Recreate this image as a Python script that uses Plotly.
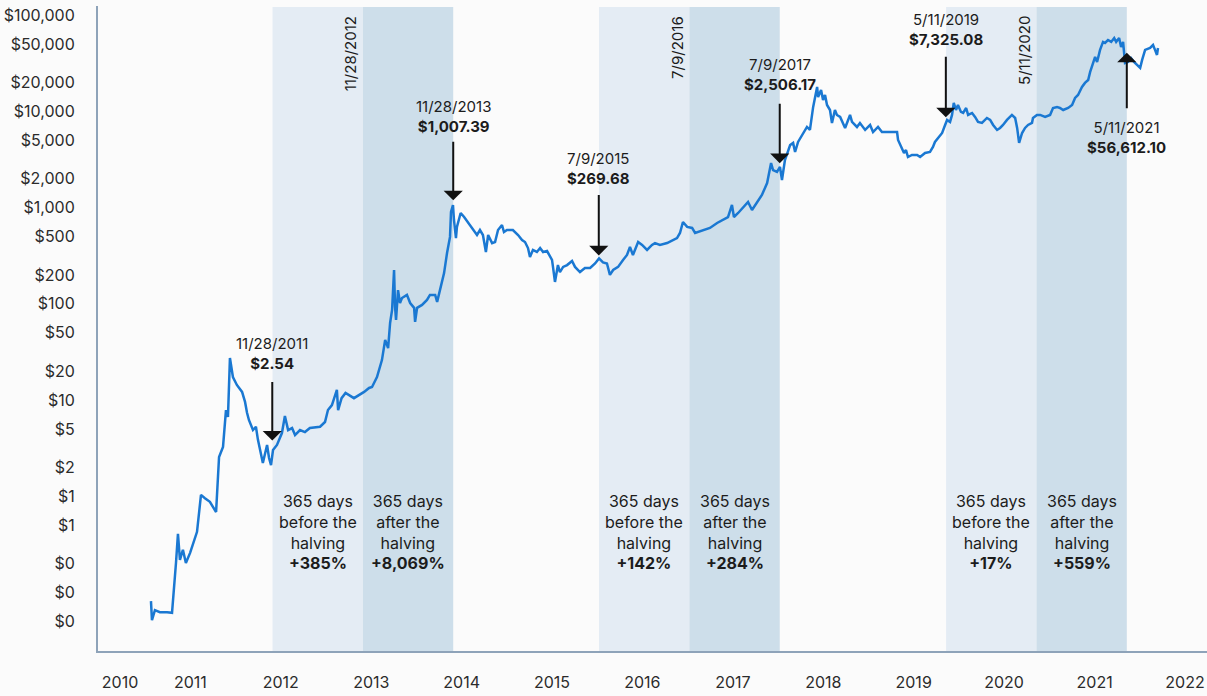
import math
import pandas as pd
import plotly.graph_objects as go

# weekly-ish BTC price
dates = [
    "2010-07-26", "2010-07-30", "2010-08-11", "2010-08-31", "2010-09-29", "2010-10-19", "2010-11-04", "2010-11-12",
    "2010-11-20", "2010-12-02", "2010-12-14", "2010-12-31",
    "2011-01-28", "2011-02-13", "2011-03-01", "2011-03-21", "2011-04-15", "2011-04-27", "2011-05-13", "2011-05-25",
    "2011-06-02", "2011-06-10", "2011-06-22", "2011-07-08", "2011-07-29", "2011-08-10", "2011-08-18", "2011-08-26",
    "2011-09-11", "2011-09-23", "2011-10-01", "2011-10-21", "2011-11-07", "2011-11-15", "2011-11-23", "2011-12-01",
    "2011-12-17",
    "2012-01-06", "2012-01-18", "2012-01-31", "2012-02-16", "2012-02-28", "2012-03-19", "2012-04-08", "2012-04-28",
    "2012-06-08", "2012-06-28", "2012-07-10", "2012-07-26", "2012-08-15", "2012-08-20", "2012-09-03", "2012-09-19",
    "2012-10-23", "2012-12-03", "2012-12-23",
    "2013-01-04", "2013-01-24", "2013-02-13", "2013-02-26", "2013-03-10", "2013-03-18", "2013-03-26", "2013-04-03",
    "2013-04-07", "2013-04-11", "2013-04-19", "2013-04-27", "2013-05-05", "2013-05-25", "2013-06-07", "2013-06-23",
    "2013-06-27", "2013-07-05", "2013-07-25", "2013-08-14", "2013-08-26", "2013-09-16", "2013-09-24", "2013-10-06",
    "2013-10-22", "2013-11-03", "2013-11-15", "2013-11-19", "2013-11-27", "2013-12-01", "2013-12-09", "2013-12-13",
    "2013-12-28",
    "2014-01-11", "2014-01-29", "2014-02-20", "2014-03-04", "2014-03-16", "2014-03-28", "2014-04-09", "2014-04-18",
    "2014-05-04", "2014-05-16", "2014-05-28", "2014-06-13", "2014-06-21", "2014-07-03", "2014-07-27", "2014-08-17",
    "2014-09-02", "2014-09-14", "2014-09-26", "2014-10-04", "2014-10-16", "2014-11-01", "2014-11-14", "2014-11-26",
    "2014-12-12",
    "2015-01-01", "2015-01-05", "2015-01-13", "2015-01-25", "2015-02-02", "2015-02-15", "2015-03-03", "2015-03-23",
    "2015-04-04", "2015-04-24", "2015-05-14", "2015-06-04", "2015-06-24", "2015-07-10", "2015-07-26", "2015-08-11",
    "2015-08-23", "2015-09-05", "2015-09-25", "2015-10-15", "2015-10-31", "2015-11-12", "2015-11-24", "2015-12-15",
    "2015-12-31",
    "2016-01-20", "2016-02-09", "2016-02-21", "2016-03-12", "2016-04-10", "2016-05-04", "2016-05-20", "2016-06-01",
    "2016-06-13", "2016-06-30", "2016-07-20", "2016-08-01", "2016-08-13", "2016-09-10", "2016-09-30", "2016-10-29",
    "2016-11-22", "2016-12-12", "2016-12-28",
    "2017-01-05", "2017-01-22", "2017-02-11", "2017-03-03", "2017-03-19", "2017-04-08", "2017-04-28", "2017-05-19",
    "2017-06-04", "2017-06-12", "2017-06-28", "2017-07-10", "2017-07-18", "2017-07-30", "2017-08-20", "2017-09-01",
    "2017-09-09", "2017-09-21", "2017-10-07", "2017-10-27", "2017-11-08", "2017-11-21", "2017-12-07", "2017-12-11",
    "2017-12-23", "2017-12-31",
    "2018-01-08", "2018-01-16", "2018-01-28", "2018-02-05", "2018-02-17", "2018-02-25", "2018-03-10", "2018-03-22",
    "2018-03-30", "2018-04-19", "2018-04-27", "2018-05-17", "2018-05-29", "2018-06-19", "2018-07-09", "2018-07-21",
    "2018-08-10", "2018-08-26", "2018-09-16", "2018-10-26", "2018-10-30", "2018-11-15", "2018-11-23", "2018-12-01",
    "2018-12-09", "2018-12-25",
    "2019-01-15", "2019-01-27", "2019-02-16", "2019-03-08", "2019-03-20", "2019-03-28", "2019-04-10", "2019-04-26",
    "2019-05-08", "2019-05-16", "2019-05-28", "2019-06-05", "2019-06-12", "2019-06-21", "2019-06-29", "2019-07-11",
    "2019-07-20", "2019-08-01", "2019-08-09", "2019-08-25", "2019-09-06", "2019-09-18", "2019-10-04", "2019-10-24",
    "2019-11-06", "2019-11-18", "2019-12-04", "2019-12-16", "2019-12-28",
    "2020-01-13", "2020-02-02", "2020-02-15", "2020-02-23", "2020-03-02", "2020-03-14", "2020-03-26", "2020-04-07",
    "2020-04-23", "2020-04-27", "2020-05-13", "2020-05-26", "2020-06-15", "2020-07-05", "2020-07-17", "2020-08-02",
    "2020-08-14", "2020-08-27", "2020-09-16", "2020-10-02", "2020-10-14", "2020-10-26", "2020-11-11", "2020-11-23",
    "2020-12-06", "2020-12-14", "2020-12-26",
    "2021-01-03", "2021-01-11", "2021-01-23", "2021-02-04", "2021-02-12", "2021-02-24", "2021-03-09", "2021-03-21",
    "2021-03-29", "2021-04-10", "2021-04-18", "2021-04-26", "2021-05-04", "2021-05-16", "2021-05-28", "2021-06-09",
    "2021-06-22", "2021-07-04", "2021-07-12", "2021-07-24", "2021-08-13", "2021-08-25", "2021-09-02", "2021-09-10",
    "2021-09-14",
]
prices = [
    0.082, 0.052, 0.066, 0.063, 0.063, 0.062, 0.204, 0.41,
    0.22, 0.28, 0.204, 0.26,
    0.43, 1.04, 0.96, 0.88, 0.69, 2.57, 3.27, 7.9,
    6.7, 27.4, 17.4, 14.4, 12.2, 9.6, 7.4, 6.2,
    4.9, 5.3, 3.9, 2.23, 3.43, 2.51, 2.12, 3.04,
    3.43,
    4.56, 6.85, 4.9, 5.14, 4.35, 4.9, 4.67, 5.14,
    5.3, 5.94, 7.9, 8.9, 12.8, 7.9, 10.5, 11.9,
    10.5, 12.2, 13.4,
    13.7, 17.4, 26.1, 42.2, 34.8, 63.4, 86.5, 225,
    93, 68, 139, 102, 115, 124, 102, 91,
    65, 91, 97.5, 110, 124, 124, 105, 139,
    209, 338, 496, 900, 1064, 743, 483, 630,
    879,
    798, 692, 585, 519, 585, 519, 346, 519,
    428, 439, 585, 659, 557, 585, 585, 519,
    461, 439, 380, 307, 363, 346, 380, 346,
    354,
    286, 242, 169, 253, 214, 242, 253, 279,
    242, 214, 236, 236, 263, 297, 270, 263,
    200, 225, 242, 286, 322, 390, 322, 439,
    409,
    363, 409, 428, 409, 428, 461, 483, 545,
    708, 630, 614, 545, 558, 585, 614, 692,
    743, 798, 1064,
    798, 879, 990, 1143, 944, 1117, 1352, 1799,
    2904, 2455, 2344, 2642, 1936, 3119, 4467, 4690,
    3777, 4800, 5675, 6870, 6400, 11090, 17880, 14060,
    16630, 13090,
    14760, 11620, 10310, 7560, 10310, 9160, 8730, 7560,
    6710, 9160, 7750, 6870, 7560, 6400, 7210, 6090,
    6870, 6090, 6090, 6090, 5035, 3963, 3690, 3963,
    3350, 3515,
    3515, 3350, 3690, 3777, 4256, 4800, 5275, 5950,
    7210, 8130, 7750, 9160, 12190, 10310, 11620, 9840,
    9600, 10820, 9160, 9600, 8730, 7750, 7560, 8520,
    8130, 7210, 6400, 6710, 7210,
    8130, 9160, 8520, 6710, 4690, 5950, 6710, 7210,
    7560, 8520, 9160, 9160, 8730, 9160, 10820, 11090,
    10820, 10310, 10820, 11620, 13740, 14760, 17880, 19680,
    21130, 25590, 31740,
    36640, 32490, 43380, 52480, 51260, 54960, 52480, 57660,
    52480, 57660, 46560, 52480, 31740, 32490, 35730, 32490,
    30270, 28190, 34120, 43380, 45420, 48760, 43380, 38460,
    45420,
]

halvings = ["2012-11-28", "2016-07-09", "2020-05-11"]
pct_before = ["+385%", "+142%", "+17%"]
pct_after = ["+8,069%", "+284%", "+559%"]

callout_dates = ["2011-11-28", "2013-11-28", "2015-07-09", "2017-07-09", "2019-05-11", "2021-05-11"]
callout_prices = [2.54, 1007.39, 269.68, 2506.17, 7325.08, 56612.10]

year_ticks = ["2010-03-23", "2011-01-01", "2012-01-01", "2013-01-01", "2014-01-01", "2015-01-01", "2016-01-01",
              "2017-01-01", "2018-01-01", "2019-01-01", "2020-01-01", "2021-01-01", "2022-01-01"]
year_labels = ["2010", "2011", "2012", "2013", "2014", "2015", "2016", "2017", "2018", "2019", "2020", "2021", "2022"]

price_ticks = [0.05, 0.1, 0.2, 0.5, 1, 2, 5, 10, 20, 50, 100, 200, 500, 1000, 2000, 5000, 10000, 20000, 50000, 100000]
price_labels = ["$0", "$0", "$0", "$1", "$1", "$2", "$5", "$10", "$20", "$50", "$100", "$200", "$500", "$1,000",
                "$2,000", "$5,000", "$10,000", "$20,000", "$50,000", "$100,000"]

FONT = "Inter"
TXT = "#1c1c1c"
LIGHT = "#e4ecf4"
DARK = "#cddeea"
AXIS = "#8ea3b9"

fig = go.Figure()
fig.add_trace(go.Scatter(x=dates, y=prices, mode="lines",
                         line=dict(color="#1a78d2", width=2.5), hoverinfo="skip"))

year = pd.Timedelta(days=365)
half = pd.Timedelta(days=182.5)
for i, h in enumerate(halvings):
    d = pd.Timestamp(h)
    fig.add_shape(type="rect", xref="x", yref="paper", x0=d - year, x1=d, y0=0, y1=0.9985,
                  fillcolor=LIGHT, line_width=0, layer="below")
    fig.add_shape(type="rect", xref="x", yref="paper", x0=d, x1=d + year, y0=0, y1=0.9985,
                  fillcolor=DARK, line_width=0, layer="below")
    fig.add_annotation(x=d, xref="x", y=1, yref="paper", text=f"{d.month}/{d.day}/{d.year}",
                       textangle=-90, showarrow=False, xanchor="center", yanchor="top",
                       xshift=-12, yshift=-8, font=dict(family=FONT, size=15, color=TXT))
    fig.add_annotation(x=d - half, xref="x", y=0.184, yref="paper", yanchor="middle", xanchor="center",
                       text=f"365 days<br>before the<br>halving<br><b>{pct_before[i]}</b>",
                       showarrow=False, font=dict(family=FONT, size=16, color=TXT))
    fig.add_annotation(x=d + half, xref="x", y=0.184, yref="paper", yanchor="middle", xanchor="center",
                       text=f"365 days<br>after the<br>halving<br><b>{pct_after[i]}</b>",
                       showarrow=False, font=dict(family=FONT, size=16, color=TXT))

# arrow standoff, tail offset (px), label offset (px)
callout_pos = [(17, -77, 104), (7, -67, 91), (7, -69, 94), (6, -67, 95), (7, -69, 95), (14, 71, -99)]
for d, p, (so, ay, ty) in zip(callout_dates, callout_prices, callout_pos):
    t = pd.Timestamp(d)
    ly = math.log10(p)
    fig.add_annotation(x=t, y=ly, text="", showarrow=True, ax=0, ay=ay, standoff=so,
                       arrowhead=1, arrowsize=1.6, arrowwidth=2, arrowcolor="#111111")
    fig.add_annotation(x=t, y=ly, text=f"{t.month}/{t.day}/{t.year}<br><b>${p:,.2f}</b>",
                       showarrow=False, yshift=ty, yanchor="middle", xanchor="center",
                       font=dict(family=FONT, size=15, color=TXT))

fig.update_layout(
    width=1207, height=696,
    margin=dict(l=98, r=0, t=6, b=45),
    paper_bgcolor="#fbfbfb", plot_bgcolor="#fbfbfb",
    showlegend=False,
    font=dict(family=FONT, size=16, color="#2b2b2b"),
    xaxis=dict(type="date", range=["2009-12-24", "2022-03-31"], showgrid=False, zeroline=False,
               showline=True, linecolor=AXIS, linewidth=2, tickvals=year_ticks, ticktext=year_labels,
               ticks="", ticklabelstandoff=16, tickfont=dict(size=16, color="#2b2b2b")),
    yaxis=dict(type="log", range=[-1.604, 5.093], showgrid=False, zeroline=False,
               showline=True, linecolor=AXIS, linewidth=2, tickvals=price_ticks, ticktext=price_labels,
               ticks="", ticklabelstandoff=18, tickfont=dict(size=16, color="#2b2b2b")),
)

fig.write_html("out.html", config={"displayModeBar": False},
               post_script="document.body.style.margin='0px';")
